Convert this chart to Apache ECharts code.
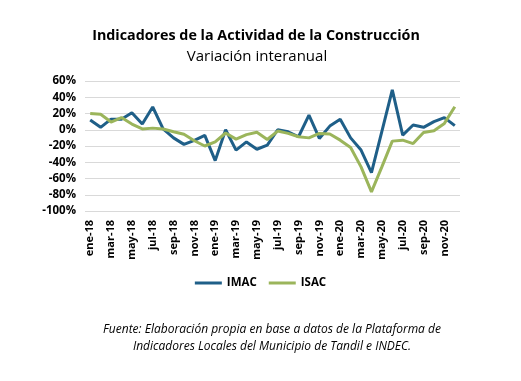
<!DOCTYPE html>
<html><head><meta charset="utf-8">
<script src="https://cdn.jsdelivr.net/npm/echarts@6/dist/echarts.min.js"></script>
<style>html,body{margin:0;padding:0;background:#fff}#c{width:521px;height:381px}</style>
</head><body><div id="c"></div>
<script>
const months = ['ene','feb','mar','abr','may','jun','jul','ago','sep','oct','nov','dic'];
const years = ['18','19','20'];
const categories = [];
years.forEach(y => months.forEach(m => categories.push(m + '-' + y)));
const imac = [12,3,13,13,21,7,28,1,-10,-18,-13,-7,-38,0,-25,-15,-24,-19,0,-2.5,-8.6,18,-10.7,4.5,12.8,-10,-25,-52.7,-2,49,-6.6,5.8,3,10,15,5];
const isac = [20,19,9.5,15,7,1,2,1,-2.5,-5.5,-13.5,-20,-15,-4,-11.5,-6,-3,-12,-1.6,-4.5,-8.6,-10,-4.5,-5.3,-12.8,-21.8,-45.7,-76.5,-45.7,-14,-12.8,-17,-3.3,-1.2,7.8,28.4];
const yTicks = {min:-100, max:60, interval:20};
const F = 'Open Sans, Liberation Sans, sans-serif';
const chart = echarts.init(document.getElementById('c'));
chart.setOption({
  animation:false,
  title:[
    {text:'Indicadores de la Actividad de la Construcción', left:251, top:24, textAlign:'center',
     textStyle:{fontFamily:F, fontSize:14.3, fontWeight:'bold', color:'#000'}},
    {text:'Variación interanual', left:252, top:44, textAlign:'center',
     textStyle:{fontFamily:F, fontSize:15, fontWeight:'normal', color:'#000'}},
    {text:'Fuente: Elaboración propia en base a datos de la Plataforma de\nIndicadores Locales del Municipio de Tandil e INDEC.', left:267, top:316, textAlign:'center',
     textStyle:{fontFamily:F, fontSize:12, fontStyle:'italic', fontWeight:'normal', color:'#000', lineHeight:17}}
  ],
  legend:{left:'center', top:272, itemWidth:27, itemHeight:3, itemGap:12, icon:'rect',
    textStyle:{fontFamily:F, fontSize:11.5, fontWeight:'bold', color:'#000'},
    data:['IMAC','ISAC']},
  grid:{left:85, right:61, top:81, bottom:170, containLabel:false},
  xAxis:{type:'category', data:categories, boundaryGap:true,
    axisLine:{show:false}, axisTick:{show:false},
    axisLabel:{interval:1, rotate:90, margin:9, fontFamily:F, fontSize:11, fontWeight:'bold', color:'#000'}},
  yAxis:{type:'value', min:yTicks.min, max:yTicks.max, interval:yTicks.interval,
    axisLine:{show:false}, axisTick:{show:false},
    splitLine:{lineStyle:{color:'#d9d9d9', width:1}},
    axisLabel:{formatter:'{value}%', margin:9, fontFamily:F, fontSize:11.5, fontWeight:'bold', color:'#000'}},
  series:[
    {name:'IMAC', type:'line', data:imac, symbol:'none', lineStyle:{color:'#1f5f88', width:3}, itemStyle:{color:'#1f5f88'}},
    {name:'ISAC', type:'line', data:isac, symbol:'none', lineStyle:{color:'#9bb55b', width:3}, itemStyle:{color:'#9bb55b'}}
  ]
});
</script></body></html>
